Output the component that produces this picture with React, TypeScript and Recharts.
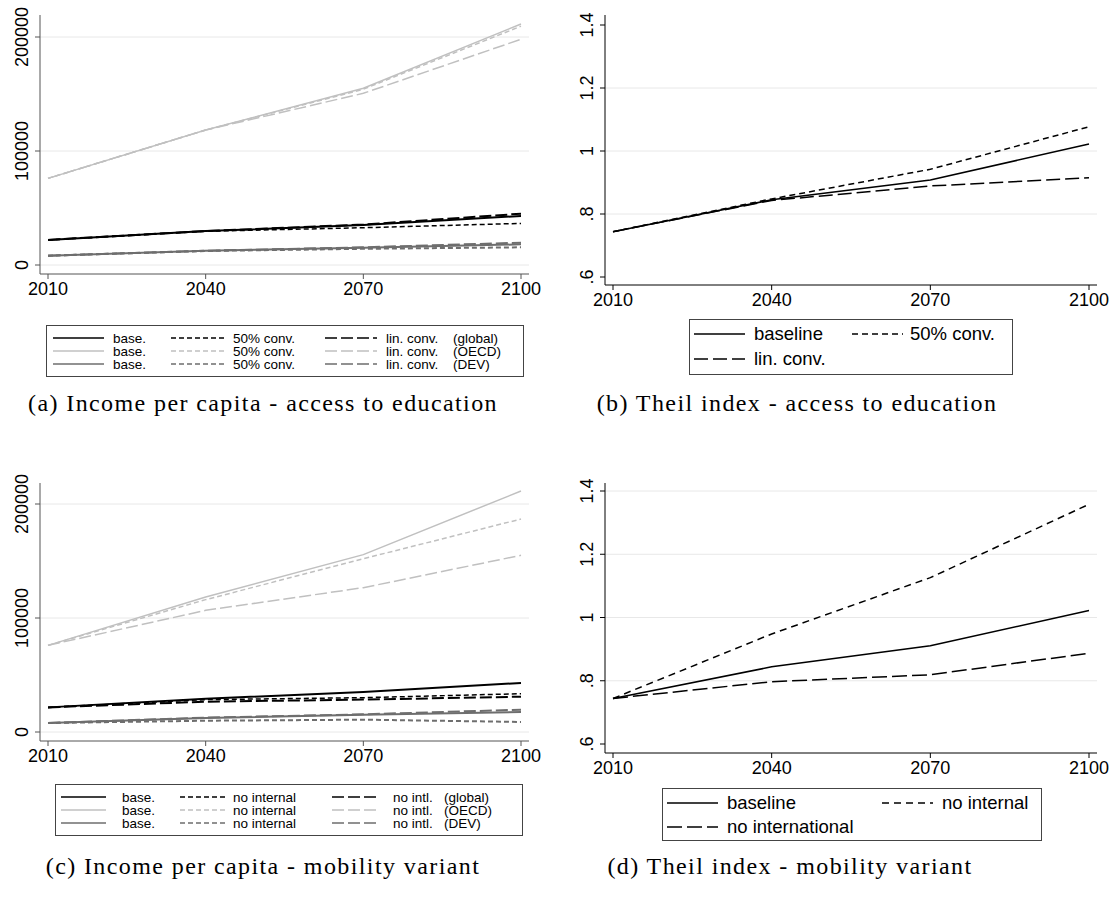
import React from "react";
import { LineChart, Line, XAxis, YAxis, ReferenceLine } from "recharts";

const years = [2010, 2040, 2070, 2100];

// (a) income per capita - access to education
const globalBaseA = [22000, 29800, 35000, 43000];
const global50A = [22000, 29600, 32700, 36500];
const globalLinA = [22000, 29800, 35500, 45000];
const oecdBaseA = [76000, 118400, 155000, 211400];
const oecd50A = [76000, 118400, 154200, 209500];
const oecdLinA = [76000, 118400, 150600, 198000];
const devBaseA = [8200, 12500, 15200, 18100];
const dev50A = [8200, 12300, 14200, 15500];
const devLinA = [8200, 12500, 15500, 19600];

// (b) theil index - access to education
const theilBaseB = [0.744, 0.845, 0.908, 1.022];
const theil50B = [0.744, 0.848, 0.942, 1.077];
const theilLinB = [0.744, 0.843, 0.889, 0.915];

// (c) income per capita - mobility variant
const globalBaseC = [21600, 29200, 35100, 43000];
const globalNoIntC = [21600, 28400, 30100, 33600];
const globalNoIntlC = [21600, 26600, 28400, 31000];
const oecdBaseC = [76000, 118400, 155600, 211400];
const oecdNoIntC = [76000, 116100, 152000, 186800];
const oecdNoIntlC = [76000, 106700, 126600, 155000];
const devBaseC = [7900, 12300, 15200, 17500];
const devNoIntC = [7900, 9900, 10800, 8800];
const devNoIntlC = [7900, 12600, 15500, 19600];

// (d) theil index - mobility variant
const theilBaseD = [0.744, 0.844, 0.911, 1.022];
const theilNoIntD = [0.744, 0.948, 1.126, 1.358];
const theilNoIntlD = [0.744, 0.797, 0.819, 0.887];

const incomeTicks = [0, 100000, 200000];
const theilTicks = [0.6, 0.8, 1, 1.2, 1.4];

const SANS = "'Liberation Sans', Arial, Helvetica, sans-serif";
const SERIF = "'Liberation Serif', 'Times New Roman', serif";

const BLACK = "#000000";
const LIGHT = "#c0c0c0";
const MID = "#6e6e6e";
const SHORT = "5 3";
const LONG = "12 4";
const X_AXIS_H = 30;

const toRows = (cols: Record<string, number[]>) =>
  years.map((yr, i) => {
    const row: Record<string, number> = { year: yr };
    Object.keys(cols).forEach((k) => (row[k] = cols[k][i]));
    return row;
  });

const dataA = toRows({ globalBaseA, global50A, globalLinA, oecdBaseA, oecd50A, oecdLinA, devBaseA, dev50A, devLinA });
const dataB = toRows({ theilBaseB, theil50B, theilLinB });
const dataC = toRows({ globalBaseC, globalNoIntC, globalNoIntlC, oecdBaseC, oecdNoIntC, oecdNoIntlC, devBaseC, devNoIntC, devNoIntlC });
const dataD = toRows({ theilBaseD, theilNoIntD, theilNoIntlD });

const fmtTheil = (v: number) => {
  const s = String(Math.round(v * 10) / 10);
  return s.startsWith("0.") ? s.slice(1) : s;
};

const RotTick = (props: any) => {
  const { x, y, payload, fmt } = props;
  return (
    <text
      x={x}
      y={y}
      transform={`rotate(-90 ${x} ${y})`}
      textAnchor="middle"
      fontSize={18}
      fontFamily={SANS}
      fill="#000"
    >
      {fmt(payload.value)}
    </text>
  );
};

interface SeriesDef {
  key: string;
  color: string;
  width: number;
  dash?: string;
}

const incomeSeries = (k: string[]): SeriesDef[] => [
  { key: k[3], color: LIGHT, width: 1.5 },
  { key: k[4], color: LIGHT, width: 1.5, dash: SHORT },
  { key: k[5], color: LIGHT, width: 1.5, dash: LONG },
  { key: k[6], color: MID, width: 2 },
  { key: k[7], color: MID, width: 2, dash: SHORT },
  { key: k[8], color: MID, width: 2, dash: LONG },
  { key: k[0], color: BLACK, width: 2 },
  { key: k[1], color: BLACK, width: 1.5, dash: SHORT },
  { key: k[2], color: BLACK, width: 2, dash: LONG },
];

interface PanelProps {
  left: number;
  top: number;
  width: number;
  height: number;
  yAxisWidth: number;
  marginTop: number;
  marginRight: number;
  marginBottom: number;
  padTop: number;
  padBottom: number;
  data: any[];
  series: SeriesDef[];
  range: [number, number];
  ticks: number[];
  grid: number[];
  fmt: (v: number) => string;
  axisColor: string;
}

const Panel = (p: PanelProps) => {
  // stretch the value range so that the first/last tick sit padTop/padBottom px inside the frame
  const plotH = p.height - p.marginTop - p.marginBottom - X_AXIS_H;
  const per = (p.range[1] - p.range[0]) / (plotH - p.padTop - p.padBottom);
  const domain = [p.range[0] - p.padBottom * per, p.range[1] + p.padTop * per];
  return (
    <div style={{ position: "absolute", left: p.left, top: p.top }}>
      <LineChart
        width={p.width}
        height={p.height}
        data={p.data}
        margin={{ top: p.marginTop, right: p.marginRight, bottom: p.marginBottom, left: 0 }}
      >
        <XAxis
          dataKey="year"
          type="number"
          domain={[2010, 2100]}
          ticks={years}
          padding={{ left: 8, right: 8 }}
          height={X_AXIS_H}
          tickSize={5}
          tickMargin={3}
          stroke={p.axisColor}
          tick={{ fontSize: 18, fill: "#000", fontFamily: SANS }}
          axisLine={{ stroke: p.axisColor }}
          tickLine={{ stroke: p.axisColor }}
        />
        <YAxis
          type="number"
          domain={domain}
          ticks={p.ticks}
          allowDataOverflow
          width={p.yAxisWidth}
          tickSize={5}
          tickMargin={7}
          stroke={p.axisColor}
          axisLine={{ stroke: p.axisColor }}
          tickLine={{ stroke: p.axisColor }}
          tick={<RotTick fmt={p.fmt} />}
        />
        {p.grid.map((g) => (
          <ReferenceLine key={g} y={g} stroke="#e8e8e8" strokeWidth={1} />
        ))}
        {p.series.map((s) => (
          <Line
            key={s.key}
            dataKey={s.key}
            type="linear"
            stroke={s.color}
            strokeWidth={s.width}
            strokeDasharray={s.dash}
            dot={false}
            isAnimationActive={false}
          />
        ))}
      </LineChart>
    </div>
  );
};

const Sample = ({ x, y, w, color, dash, width }: any) => (
  <svg style={{ position: "absolute", left: x, top: y - 5, overflow: "visible" }} width={w} height={10}>
    <line x1={0} y1={5} x2={w} y2={5} stroke={color} strokeWidth={width} strokeDasharray={dash} />
  </svg>
);

const Label = ({ x, y, size, lh, children }: any) => (
  <div
    style={{
      position: "absolute",
      left: x,
      top: y - lh / 2,
      height: lh,
      fontSize: size,
      lineHeight: `${lh}px`,
      fontFamily: SANS,
      color: "#000",
      whiteSpace: "nowrap",
    }}
  >
    {children}
  </div>
);

const Box = ({ x, y, w, h }: any) => (
  <div
    style={{
      position: "absolute",
      left: x,
      top: y,
      width: w,
      height: h,
      border: "1px solid #444",
      boxSizing: "border-box",
    }}
  />
);

const groupColors = [BLACK, LIGHT, MID];
const groupNames = ["(global)", "(OECD)", "(DEV)"];

const IncomeLegend = ({ box, rows, cols, labels }: any) => (
  <>
    <Box {...box} />
    {rows.map((ry: number, r: number) => (
      <React.Fragment key={r}>
        {[undefined, SHORT, LONG].map((dash, c) => (
          <React.Fragment key={c}>
            <Sample x={cols[c][0]} y={ry} w={cols[c][1]} color={groupColors[r]} dash={dash} width={1.5} />
            <Label x={cols[c][2]} y={ry} size={13.5} lh={13}>
              {labels[c]}
            </Label>
          </React.Fragment>
        ))}
        <Label x={cols[3]} y={ry} size={13.5} lh={13}>
          {groupNames[r]}
        </Label>
      </React.Fragment>
    ))}
  </>
);

const TheilLegend = ({ box, items }: any) => (
  <>
    <Box {...box} />
    {items.map((it: any, i: number) => (
      <React.Fragment key={i}>
        <Sample x={it.sx} y={it.y} w={51} color={BLACK} dash={it.dash} width={1.5} />
        <Label x={it.tx} y={it.y} size={18.5} lh={20}>
          {it.label}
        </Label>
      </React.Fragment>
    ))}
  </>
);

const Caption = ({ cx, y, children }: any) => (
  <div
    style={{
      position: "absolute",
      left: cx - 300,
      width: 600,
      top: y - 13,
      textAlign: "center",
      fontSize: 24,
      letterSpacing: 1.4,
      lineHeight: "26px",
      fontFamily: SERIF,
      color: "#000",
    }}
  >
    {children}
  </div>
);

export default function App() {
  return (
    <div style={{ position: "absolute", left: 0, top: 0, width: 1109, height: 907, background: "#fff", overflow: "hidden" }}>
      <Panel
        left={0}
        top={0}
        width={545}
        height={310}
        yAxisWidth={40}
        marginTop={15}
        marginRight={16}
        marginBottom={6}
        padTop={22}
        padBottom={9}
        data={dataA}
        series={incomeSeries(Object.keys(dataA[0]).slice(1))}
        range={[0, 200000]}
        ticks={incomeTicks}
        grid={incomeTicks}
        fmt={(v) => String(v)}
        axisColor="#555"
      />
      <Panel
        left={560}
        top={0}
        width={549}
        height={320}
        yAxisWidth={45}
        marginTop={15}
        marginRight={12}
        marginBottom={5}
        padTop={10}
        padBottom={8}
        data={dataB}
        series={[
          { key: "theilBaseB", color: BLACK, width: 1.5 },
          { key: "theil50B", color: BLACK, width: 1.5, dash: "6 4" },
          { key: "theilLinB", color: BLACK, width: 1.5, dash: "14 5" },
        ]}
        range={[0.6, 1.4]}
        ticks={theilTicks}
        grid={[0.8, 1, 1.2]}
        fmt={fmtTheil}
        axisColor="#000"
      />
      <Panel
        left={0}
        top={460}
        width={545}
        height={316}
        yAxisWidth={40}
        marginTop={23}
        marginRight={16}
        marginBottom={5}
        padTop={21}
        padBottom={9}
        data={dataC}
        series={incomeSeries(Object.keys(dataC[0]).slice(1))}
        range={[0, 200000]}
        ticks={incomeTicks}
        grid={incomeTicks}
        fmt={(v) => String(v)}
        axisColor="#555"
      />
      <Panel
        left={560}
        top={460}
        width={549}
        height={330}
        yAxisWidth={45}
        marginTop={23}
        marginRight={12}
        marginBottom={7}
        padTop={8}
        padBottom={9}
        data={dataD}
        series={[
          { key: "theilBaseD", color: BLACK, width: 1.5 },
          { key: "theilNoIntD", color: BLACK, width: 1.5, dash: "7 5" },
          { key: "theilNoIntlD", color: BLACK, width: 1.5, dash: "15 5" },
        ]}
        range={[0.6, 1.4]}
        ticks={theilTicks}
        grid={[0.8, 1, 1.2, 1.4]}
        fmt={fmtTheil}
        axisColor="#000"
      />

      <IncomeLegend
        box={{ x: 46, y: 325, w: 478, h: 52 }}
        rows={[338, 351, 364]}
        cols={[
          [53, 51, 113],
          [171, 53, 233],
          [325, 52, 386],
          453,
        ]}
        labels={["base.", "50% conv.", "lin. conv."]}
      />
      <TheilLegend
        box={{ x: 689, y: 319, w: 324, h: 56 }}
        items={[
          { sx: 694, tx: 754, y: 334, label: "baseline" },
          { sx: 852, tx: 910, y: 334, label: "50% conv.", dash: "6 4" },
          { sx: 694, tx: 754, y: 359, label: "lin. conv.", dash: "14 5" },
        ]}
      />
      <IncomeLegend
        box={{ x: 55, y: 784, w: 468, h: 52 }}
        rows={[797, 810, 823]}
        cols={[
          [61, 45, 122],
          [180, 45, 233],
          [332, 48, 393],
          444,
        ]}
        labels={["base.", "no internal", "no intl."]}
      />
      <TheilLegend
        box={{ x: 662, y: 788, w: 380, h: 53 }}
        items={[
          { sx: 667, tx: 727, y: 803, label: "baseline" },
          { sx: 882, tx: 942, y: 803, label: "no internal", dash: "7 5" },
          { sx: 667, tx: 727, y: 827, label: "no international", dash: "15 5" },
        ]}
      />

      <Caption cx={263} y={403}>(a) Income per capita - access to education</Caption>
      <Caption cx={797} y={403}>(b) Theil index - access to education</Caption>
      <Caption cx={263} y={866}>(c) Income per capita - mobility variant</Caption>
      <Caption cx={790} y={866}>(d) Theil index - mobility variant</Caption>
    </div>
  );
}
